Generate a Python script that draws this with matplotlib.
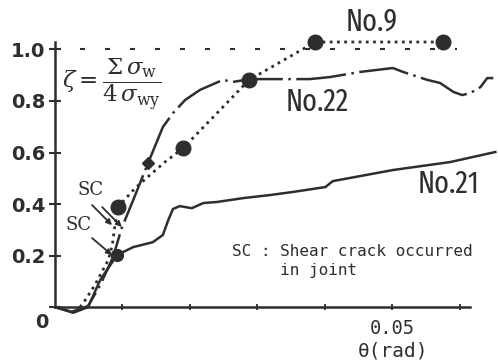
import numpy as np
import matplotlib
matplotlib.use('Agg')
import matplotlib.pyplot as plt
from matplotlib.transforms import ScaledTranslation

# ── data ─────────────────────────────────────────────────────────────────────
no21_x = [0, 0.0027, 0.0049, 0.0067, 0.0092, 0.0116, 0.0145, 0.0160, 0.0168, 0.0175,
          0.0185, 0.0203, 0.0220, 0.0240, 0.0279, 0.0319, 0.0353, 0.0401, 0.0412,
          0.0501, 0.0586, 0.0653]
no21_y = [0, -0.022, 0, 0.105, 0.202, 0.233, 0.252, 0.280, 0.338, 0.381,
          0.392, 0.384, 0.404, 0.408, 0.423, 0.435, 0.447, 0.466, 0.489,
          0.532, 0.563, 0.602]

no22_x = [0, 0.0025, 0.0049, 0.0067, 0.0086, 0.0099, 0.0119, 0.0138, 0.0160, 0.0175,
          0.0193, 0.0215, 0.0249, 0.0264, 0.0289, 0.0378, 0.0408, 0.0453, 0.0501,
          0.0516, 0.0552, 0.0571, 0.0591, 0.0604, 0.0616, 0.0631, 0.0641, 0.0650]
no22_y = [0, -0.018, 0.004, 0.085, 0.194, 0.307, 0.435, 0.559, 0.699, 0.753,
          0.804, 0.843, 0.882, 0.874, 0.885, 0.885, 0.893, 0.913, 0.928,
          0.913, 0.882, 0.870, 0.835, 0.823, 0.831, 0.854, 0.889, 0.889]

no9_x = [0.0037, 0.0042, 0.0059, 0.0079, 0.0085, 0.0089, 0.0093, 0.0119, 0.0141,
         0.0163, 0.0190, 0.0288, 0.0386, 0.0576]
no9_y = [0, 0.016, 0.085, 0.183, 0.241, 0.318, 0.388, 0.462, 0.513,
         0.563, 0.617, 0.882, 1.029, 1.029]
no9_marks = [6, 10, 11, 12, 13]
no21_sc = [4]
no22_diamond = [7]

y_ticks = [0, 0.2, 0.4, 0.6, 0.8, 1.0]
y_ticklabels = ['0', '0.2', '0.4', '0.6', '0.8', '1.0']
x_ticks = [0.01, 0.02, 0.03, 0.04, 0.05, 0.06]
x_ticklabels = ['', '', '', '', '0.05', '']
ref_level = 1.0

INK = '#2e2e2e'
MONO = 'DejaVu Sans Mono'
NARROW = ['Fira Sans Extra Condensed', 'DejaVu Sans']

plt.rcParams['mathtext.fontset'] = 'dejavuserif'

fig = plt.figure(figsize=(4.98, 3.62), dpi=100, facecolor='white')
ax = fig.add_axes([55 / 498, 42 / 362, 443 / 498, 320 / 362])
ax.set_xlim(0, 0.0657)
ax.set_ylim(-0.05, 1.192)

# ── curves ───────────────────────────────────────────────────────────────────
ax.plot([0.0037, 0.0596], [ref_level, ref_level], color=INK, lw=1.5,
        linestyle=(0, (2.4, 9.6)))
ax.plot(no21_x, no21_y, color=INK, lw=1.8, solid_joinstyle='round')
ax.plot(no21_x, no21_y, ls='none', marker='o', ms=8.5, color=INK, markevery=no21_sc)
ax.plot(no22_x, no22_y, color=INK, lw=1.8, linestyle=(0, (20, 2.2, 1, 2.2)))
ax.plot(no22_x, no22_y, ls='none', marker='D', ms=6, color=INK, markevery=no22_diamond)
ax.plot(no9_x, no9_y, color=INK, lw=2.0, linestyle=(0, (1, 1.6)),
        marker='o', ms=10.5, markevery=no9_marks)

# ── axes styling ─────────────────────────────────────────────────────────────
for s in ('top', 'right'):
    ax.spines[s].set_visible(False)
ax.spines['bottom'].set_position(('data', 0))
ax.spines['bottom'].set_bounds(0, 0.0616)
ax.spines['left'].set_bounds(0, 1.03)
for s in ('left', 'bottom'):
    ax.spines[s].set_linewidth(1.8)
    ax.spines[s].set_color(INK)

ax.set_yticks(y_ticks)
ax.set_yticklabels(y_ticklabels, fontsize=14, fontweight='bold', color=INK)
ax.set_xticks(x_ticks)
ax.set_xticklabels(x_ticklabels, fontsize=13.5, family=MONO, color=INK)
ax.tick_params(axis='y', direction='inout', length=8, width=1.5, color=INK, pad=3)
ax.tick_params(axis='x', direction='inout', length=5, width=1.3, color=INK, pad=6)
# the "0" label sits lower than the others in the original
lab0 = ax.get_yticklabels()[0]
lab0.set_transform(lab0.get_transform() + ScaledTranslation(0.03, -0.13, fig.dpi_scale_trans))

ax.text(0.0502, -0.17, 'θ(rad)', fontsize=14, family=MONO, color=INK,
        ha='center', va='center')

# ── annotations ──────────────────────────────────────────────────────────────
ax.text(0.00104, 0.866, r'$\zeta = \dfrac{\Sigma\,\sigma_{\rm w}}{4\,\sigma_{\rm wy}}$',
        fontsize=16.5, color=INK, ha='left', va='center')

ax.text(0.0470, 1.107, 'No.9', fontsize=22, family=NARROW, color=INK, ha='center', va='center')
ax.text(0.0389, 0.796, 'No.22', fontsize=22, family=NARROW, color=INK, ha='center', va='center')
ax.text(0.0583, 0.478, 'No.21', fontsize=22, family=NARROW, color=INK, ha='center', va='center')

ax.text(0.0263, 0.245, 'SC : Shear crack occurred\n     in joint', fontsize=11.5,
        family=MONO, color=INK, ha='left', va='top', linespacing=1.3)

ax.text(0.00534, 0.454, 'SC', fontsize=13, family='DejaVu Serif', color=INK,
        ha='center', va='center')
ax.text(0.00356, 0.318, 'SC', fontsize=13, family='DejaVu Serif', color=INK,
        ha='center', va='center')
arrow_kw = dict(arrowstyle='-|>', lw=1.3, color=INK, mutation_scale=8, shrinkA=0, shrinkB=0)
for tail, tip in [((0.0055, 0.396), (0.00846, 0.318)),
                  ((0.0070, 0.388), (0.0099, 0.311)),
                  ((0.0055, 0.268), (0.00846, 0.202))]:
    ax.annotate('', xy=tip, xytext=tail, arrowprops=arrow_kw)

fig.savefig('out.png', dpi=100, facecolor='white')
